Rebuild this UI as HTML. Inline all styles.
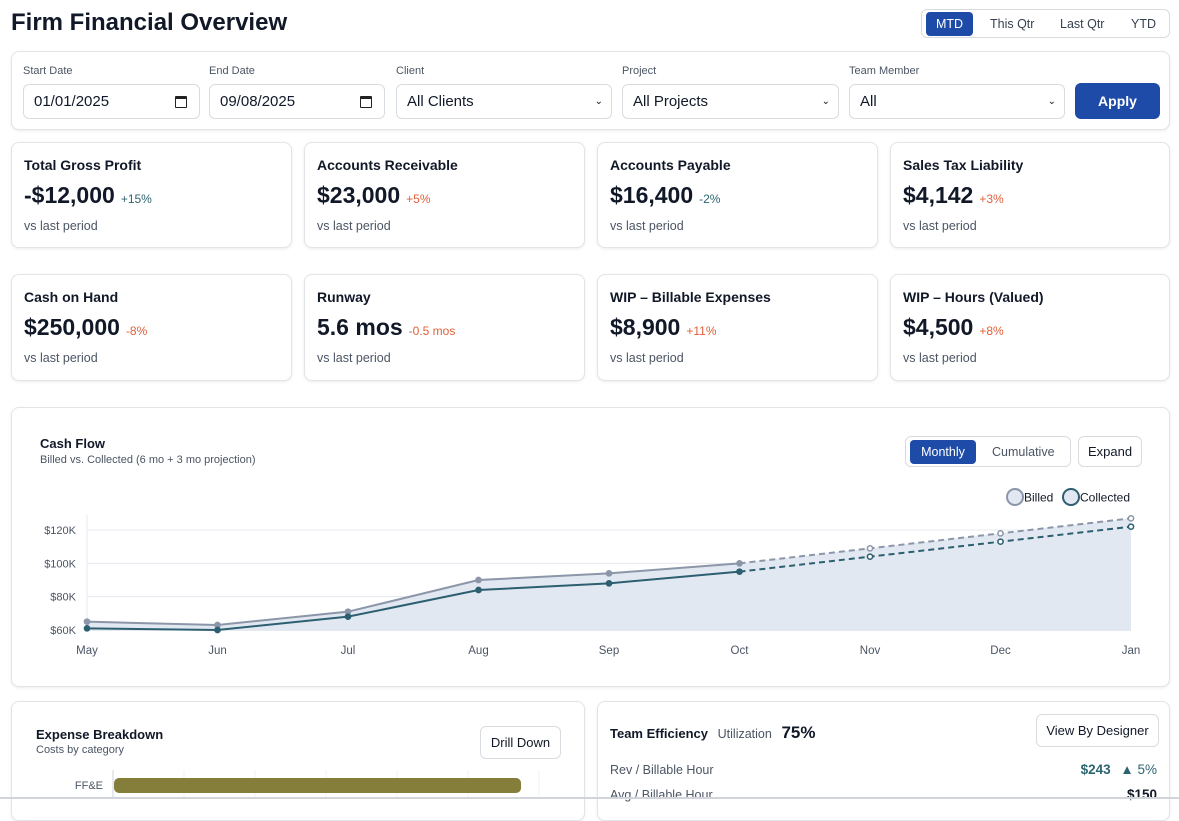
<!DOCTYPE html>
<html><head><meta charset="utf-8">
<style>
*{box-sizing:border-box;margin:0;padding:0}
body{width:1179px;height:799px;overflow:hidden;background:#fff;font-family:"Liberation Sans",sans-serif;color:#111827;position:relative}
.a{position:absolute}
.card{position:absolute;border:1px solid #e2e4e8;border-radius:8px;background:#fff;box-shadow:0 1px 3px rgba(0,0,0,.08)}
.lbl{position:absolute;font-size:11px;color:#4b5563}
.inp{position:absolute;height:35px;border:1px solid #d8dbe0;border-radius:6px;font-size:15px;padding:0 10px;line-height:33px;color:#111827;background:#fff}
.cal{position:absolute;right:12px;top:11px;width:12px;height:12px;border:1.5px solid #222;border-top-width:3px;border-radius:1px}
.kt{position:absolute;left:12px;top:14px;font-size:14px;font-weight:bold;color:#111827}
.kv{position:absolute;left:12px;top:39px;font-size:23px;font-weight:bold;color:#111827;white-space:nowrap}
.kv span{font-size:12px;font-weight:normal;margin-left:6px}
.ks{position:absolute;left:12px;top:76px;font-size:12.5px;color:#4b5563}
.up{color:#2c6470}.dn{color:#e0603a}
.btn{position:absolute;border:1px solid #d8dbe0;border-radius:6px;background:#fff;font-size:13px;text-align:center;color:#111827}
#chart{z-index:5}
</style></head><body>
<div class="a" style="left:11px;top:9px;font-size:24px;font-weight:bold">Firm Financial Overview</div>
<div class="a" style="left:921px;top:9px;width:249px;height:29px;border:1px solid #d8dbe0;border-radius:6px;font-size:12.5px;color:#374151">
 <div class="a" style="left:4px;top:2px;width:47px;height:24px;background:#1e4aa8;color:#fff;border-radius:4px;text-align:center;line-height:24px">MTD</div>
 <div class="a" style="left:68px;top:7px">This Qtr</div>
 <div class="a" style="left:138px;top:7px">Last Qtr</div>
 <div class="a" style="left:209px;top:7px">YTD</div>
</div>

<div class="card" style="left:11px;top:51px;width:1159px;height:79px">
 <div class="lbl" style="left:11px;top:13px">Start Date</div>
 <div class="inp" style="left:11px;top:32px;width:177px">01/01/2025<span class="cal"></span></div>
 <div class="lbl" style="left:197px;top:13px">End Date</div>
 <div class="inp" style="left:197px;top:32px;width:176px">09/08/2025<span class="cal"></span></div>
 <div class="lbl" style="left:384px;top:13px">Client</div>
 <div class="inp" style="left:384px;top:32px;width:216px">All Clients<span style="position:absolute;right:8px;font-size:10px">&#x2304;</span></div>
 <div class="lbl" style="left:610px;top:13px">Project</div>
 <div class="inp" style="left:610px;top:32px;width:217px">All Projects<span style="position:absolute;right:8px;font-size:10px">&#x2304;</span></div>
 <div class="lbl" style="left:837px;top:13px">Team Member</div>
 <div class="inp" style="left:837px;top:32px;width:216px">All<span style="position:absolute;right:8px;font-size:10px">&#x2304;</span></div>
 <div class="a" style="left:1063px;top:31px;width:85px;height:36px;background:#1e4aa8;color:#fff;border-radius:6px;text-align:center;line-height:36px;font-size:14px;font-weight:bold">Apply</div>
</div>

<div class="card" style="left:11px;top:142px;width:281px;height:106px"><div class="kt">Total Gross Profit</div><div class="kv">-$12,000<span class="up">+15%</span></div><div class="ks">vs last period</div></div>
<div class="card" style="left:304px;top:142px;width:281px;height:106px"><div class="kt">Accounts Receivable</div><div class="kv">$23,000<span class="dn">+5%</span></div><div class="ks">vs last period</div></div>
<div class="card" style="left:597px;top:142px;width:281px;height:106px"><div class="kt">Accounts Payable</div><div class="kv">$16,400<span class="up">-2%</span></div><div class="ks">vs last period</div></div>
<div class="card" style="left:890px;top:142px;width:280px;height:106px"><div class="kt">Sales Tax Liability</div><div class="kv">$4,142<span class="dn">+3%</span></div><div class="ks">vs last period</div></div>
<div class="card" style="left:11px;top:274px;width:281px;height:107px"><div class="kt">Cash on Hand</div><div class="kv">$250,000<span class="dn">-8%</span></div><div class="ks">vs last period</div></div>
<div class="card" style="left:304px;top:274px;width:281px;height:107px"><div class="kt">Runway</div><div class="kv">5.6 mos<span class="dn">-0.5 mos</span></div><div class="ks">vs last period</div></div>
<div class="card" style="left:597px;top:274px;width:281px;height:107px"><div class="kt">WIP – Billable Expenses</div><div class="kv">$8,900<span class="dn">+11%</span></div><div class="ks">vs last period</div></div>
<div class="card" style="left:890px;top:274px;width:280px;height:107px"><div class="kt">WIP – Hours (Valued)</div><div class="kv">$4,500<span class="dn">+8%</span></div><div class="ks">vs last period</div></div>

<div class="card" style="left:11px;top:407px;width:1159px;height:280px">
 <div class="a" style="left:28px;top:28px;font-size:13px;font-weight:bold">Cash Flow</div>
 <div class="a" style="left:28px;top:46px;font-size:11px;color:#4b5563">Billed vs. Collected (6 mo + 3 mo projection)</div>
 <div class="a" style="left:893px;top:28px;width:166px;height:31px;border:1px solid #d8dbe0;border-radius:6px;font-size:12.5px">
  <div class="a" style="left:4px;top:3px;width:66px;height:24px;background:#1e4aa8;color:#fff;border-radius:4px;text-align:center;line-height:24px">Monthly</div>
  <div class="a" style="left:86px;top:8px;color:#4b5563">Cumulative</div>
 </div>
 <div class="btn" style="left:1066px;top:28px;width:64px;height:31px;line-height:29px">Expand</div>
</div>

<div class="card" style="left:11px;top:701px;width:574px;height:120px">
 <div class="a" style="left:24px;top:25px;font-size:13px;font-weight:bold">Expense Breakdown</div>
 <div class="a" style="left:24px;top:42px;font-size:11px;color:#4b5563">Costs by category</div>
 <div class="btn" style="left:468px;top:24px;width:81px;height:33px;line-height:31px">Drill Down</div>
</div>
<div class="card" style="left:597px;top:701px;width:573px;height:120px">
 <div class="a" style="left:12px;top:21px;font-size:13px;font-weight:bold;white-space:nowrap">Team Efficiency <span style="font-weight:normal;color:#4b5563;font-size:12.5px;margin-left:6px">Utilization</span> <span style="font-size:17px;margin-left:6px">75%</span></div>
 <div class="btn" style="left:438px;top:12px;width:123px;height:33px;line-height:31px">View By Designer</div>
 <div class="a" style="left:12px;top:61px;font-size:12.5px;color:#4b5563">Rev / Billable Hour</div>
 <div class="a" style="right:12px;top:60px;font-size:13.5px;color:#2c6470;font-weight:bold">$243 <span style="font-weight:normal;margin-left:6px">▲ 5%</span></div>
 <div class="a" style="left:12px;top:86px;font-size:12.5px;color:#4b5563">Avg / Billable Hour</div>
 <div class="a" style="right:12px;top:85px;font-size:13.5px;font-weight:bold">$150</div>
</div>

<svg class="a" style="left:0;top:0" width="1179" height="799" id="chart"></svg>
<div class="a" style="left:0;top:797px;width:1179px;height:2px;background:#d1d5db;z-index:6"></div>

<script>
const months=["May","Jun","Jul","Aug","Sep","Oct","Nov","Dec","Jan"];
const billed=[65,63,71,90,94,100,109,118,127];
const collected=[61,60,68,84,88,95,104,113,122];
const projectionStart=5;
const yTicks=[60,80,100,120];
const yTickLabels=["$60K","$80K","$100K","$120K"];
const expCats=["FF&E"];
const expVals=[86];

const NS="http://www.w3.org/2000/svg";
const svg=document.getElementById('chart');
function mk(t,a,p){const e=document.createElementNS(NS,t);for(const k in a)e.setAttribute(k,a[k]);(p||svg).appendChild(e);return e;}
const x0=87,x1=1131,yb=630;
const X=i=>x0+i*(x1-x0)/(months.length-1);
const Y=v=>yb-(v-60)*100/60;
yTicks.forEach((t,i)=>{
 const g=mk('line',{x1:x0,x2:x1,y1:Y(t),y2:Y(t),stroke:i==0?'#cdd3dc':'#e5eaf0','stroke-width':1});
 
 
 const tx=mk('text',{x:x0-11,y:Y(t)+4,'text-anchor':'end','font-size':11,fill:'#4b5563','font-family':'Liberation Sans'});
 tx.textContent=yTickLabels[i];
 
 
});
const ax=mk('line',{x1:x0,x2:x0,y1:515,y2:yb,stroke:'#e5eaf0'});


let d=`M${X(0)},${yb}`;billed.forEach((v,i)=>d+=`L${X(i)},${Y(v)}`);d+=`L${X(billed.length-1)},${yb}Z`;
const ar=mk('path',{d,fill:'#e2e8f2'});


function series(vals,col,name){
 let s='',p='';
 vals.forEach((v,i)=>{if(i<=projectionStart)s+=(i?'L':'M')+X(i)+','+Y(v);if(i>=projectionStart)p+=(i==projectionStart?'M':'L')+X(i)+','+Y(v);});
 const l1=mk('path',{d:s,fill:'none',stroke:col,'stroke-width':2});
 
 
 const l2=mk('path',{d:p,fill:'none',stroke:col,'stroke-width':2,'stroke-dasharray':'6,4'});
 
 
 vals.forEach((v,i)=>{
  const c=mk('circle',{cx:X(i),cy:Y(v),r:2.6,fill:i>projectionStart?'#fff':col,stroke:col,'stroke-width':1.5});
  
  
 });
}
series(billed,'#8b96a8','billed');
series(collected,'#2c5f70','collected');
months.forEach((m,i)=>{
 const t=mk('text',{x:X(i),y:654,'text-anchor':'middle','font-size':11.5,fill:'#4b5563','font-family':'Liberation Sans'});
 t.textContent=m;
 
 
});
[[1015,'#8b96a8','#e2e8f2','Billed',1024],[1071,'#2c5f70','#e2e8f2','Collected',1080]].forEach(l=>{
 const c=mk('circle',{cx:l[0],cy:497,r:8,fill:l[2],stroke:l[1],'stroke-width':2});
 
 
 const t=mk('text',{x:l[4],y:501.5,'font-size':12,fill:'#111827','font-family':'Liberation Sans'});
 t.textContent=l[3];
 
 
});
const ex0=114,ex1=540,ev=v=>ex0+v*(ex1-ex0)/90;
for(let k=0;k<=6;k++){
 const g=mk('line',{x1:113+k*71,x2:113+k*71,y1:770,y2:799,stroke:k==0?'#cdd3dc':'#eef0f3'});
 
 
}
expCats.forEach((c,i)=>{
 const y=778+i*30;
 const b=mk('rect',{x:ex0,y,width:ev(expVals[i])-ex0,height:15,rx:5,fill:'#857d3a'});
 
 
 const t=mk('text',{x:103,y:y+11,'text-anchor':'end','font-size':11,fill:'#4b5563','font-family':'Liberation Sans'});
 t.textContent=c;
 
 
});
</script>
</body></html>
